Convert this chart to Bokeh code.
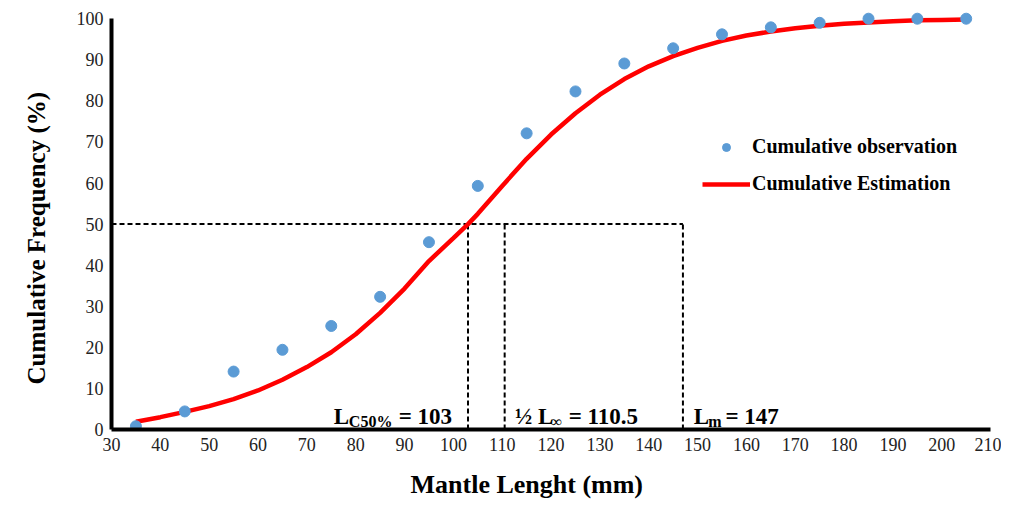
from bokeh.plotting import figure
from bokeh.models import FixedTicker, Legend, LegendItem, ColumnDataSource, Title
from bokeh.core.properties import value
from bokeh.embed import file_html
from bokeh.resources import INLINE

# ---- data ----
obs_x = [35, 45, 55, 65, 75, 85, 95, 105, 115, 125, 135, 145, 155, 165, 175, 185, 195, 205]
obs_y = [0.8, 4.4, 14.1, 19.4, 25.2, 32.3, 45.6, 59.3, 72.1, 82.3, 89.1, 92.8, 96.2, 97.9, 99.0, 100, 100, 100]

est_x = [35, 40, 45, 50, 55, 60, 65, 70, 75, 80, 85, 90, 95, 100, 103, 105, 110, 115, 120,
         125, 130, 135, 140, 145, 150, 155, 160, 165, 170, 175, 180, 185, 190, 195, 200, 205]
est_y = [1.9, 3.0, 4.3, 5.7, 7.4, 9.5, 12.1, 15.2, 18.8, 23.2, 28.4, 34.3, 41.0, 46.6, 50.0, 52.5,
         59.3, 65.9, 71.8, 77.0, 81.5, 85.3, 88.4, 90.9, 92.9, 94.6, 95.9, 96.9, 97.7, 98.3,
         98.8, 99.1, 99.4, 99.6, 99.7, 99.8]

x_ticks = list(range(30, 211, 10))
y_ticks = list(range(0, 101, 10))

l50 = 103
half_linf = 110.5
lm = 147
ref_y = 50

# annotation pieces: text, x (data), y (data), size
ann_text = ["L", "C50%", "= 103", "\u00bd L", "\u221e", "= 110.5", "L", "m", "= 147"]
ann_x = [75.5, 78.6, 88.8, 112.6, 119.9, 123.6, 149.2, 152.2, 155.7]
ann_y = [3.2, 1.9, 3.2, 3.2, 1.9, 3.2, 3.2, 1.9, 3.2]
ann_size = ["23px", "16px", "23px", "23px", "16px", "23px", "23px", "16px", "23px"]

x_title = "Mantle Lenght (mm)"
y_title = "Cumulative Frequency (%)"

FONT = "Liberation Serif"

p = figure(width=1001, height=512, output_backend="svg", toolbar_location=None,
           x_range=(30, 211), y_range=(0, 102),
           min_border_left=111, min_border_right=6, min_border_top=10, min_border_bottom=82)
p.outline_line_color = None
p.grid.grid_line_color = None

for ax in (p.xaxis[0], p.yaxis[0]):
    ax.axis_line_width = 4
    ax.axis_line_color = "black"
    ax.major_tick_in = 0
    ax.major_tick_out = 0
    ax.minor_tick_in = 0
    ax.minor_tick_out = 0
    ax.major_label_text_font = FONT
    ax.major_label_text_font_size = "18px"
    ax.major_label_text_color = "#222222"

p.xaxis.ticker = FixedTicker(ticks=x_ticks)
p.yaxis.ticker = FixedTicker(ticks=y_ticks)
p.xaxis.bounds = (30, 210)
p.yaxis.bounds = (0, 100)
p.xaxis.major_label_standoff = 8
p.yaxis.major_label_standoff = 8

# dashed reference lines
p.line([30, lm], [ref_y, ref_y], line_color="black", line_width=2, line_dash="5 3")
for xv in (l50, half_linf, lm):
    p.line([xv, xv], [0, ref_y], line_color="black", line_width=2, line_dash="5 3")

est = p.line(est_x, est_y, line_color="#FF0000", line_width=4.5)
obs = p.scatter(obs_x, obs_y, size=11, fill_color="#5B9BD5", line_color="#5B9BD5")

src = ColumnDataSource(dict(x=ann_x, y=ann_y, t=ann_text, s=ann_size))
p.text(x="x", y="y", text="t", text_font_size="s", source=src,
       text_font=value(FONT), text_font_style="bold", text_color="black",
       text_baseline="alphabetic", text_align="left")

# axis titles as side titles (offsets like the reference)
p.add_layout(Title(text=x_title, align="left", offset=299, standoff=28, vertical_align="bottom",
                   text_font=FONT, text_font_style="bold", text_font_size="26px",
                   text_color="black"), "below")
p.add_layout(Title(text=y_title, align="left", offset=45, standoff=43, vertical_align="top",
                   text_font=FONT, text_font_style="bold", text_font_size="25px",
                   text_color="black"), "left")

legend = Legend(items=[LegendItem(label="Cumulative observation", renderers=[obs]),
                       LegendItem(label="Cumulative Estimation", renderers=[est])],
                location=(591, 234))
legend.border_line_color = None
legend.background_fill_alpha = 0
legend.padding = 0
legend.margin = 0
legend.spacing = 14
legend.glyph_width = 48
legend.glyph_height = 20
legend.label_height = 20
legend.label_standoff = 2
legend.label_text_font = FONT
legend.label_text_font_style = "bold"
legend.label_text_font_size = "20px"
legend.label_text_color = "black"
p.add_layout(legend)

open("out.html", "w").write(file_html(p, INLINE))
